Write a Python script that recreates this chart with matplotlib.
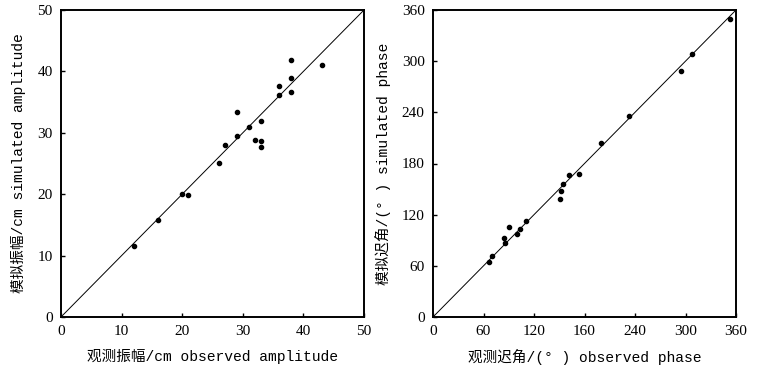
import matplotlib
matplotlib.use('Agg')
from matplotlib import pyplot as plt

# amplitude (cm)
amp_obs = [12, 16, 20, 21, 26, 27, 29, 29, 31, 32, 33, 33, 33, 36, 36, 38, 38, 38, 43]
amp_sim = [11.6, 15.8, 20.1, 19.9, 25.1, 28.0, 29.4, 33.4, 30.9, 28.9, 32.0, 28.6, 27.7, 36.1, 37.6, 36.6, 38.9, 41.8, 41.0]

# phase (deg)
pha_obs = [66, 70, 84, 85, 90, 100, 103, 110, 151, 152, 154, 161, 174, 200, 233, 295, 308, 353]
pha_sim = [64, 71, 93, 87, 106, 97, 103, 113, 138, 148, 156, 166, 168, 204, 236, 289, 308, 350]

amp_ticks = [0, 10, 20, 30, 40, 50]
pha_ticks = [0, 60, 120, 180, 240, 300, 360]
pha_xticklabels = ['0', '60', '120', '160', '240', '300', '360']

lab_font = ['Liberation Mono', 'Noto Sans CJK SC']
tick_font = 'Liberation Serif'

fig = plt.figure(figsize=(7.63, 3.78), dpi=100)
ax1 = fig.add_axes([61 / 763, 1 - 317 / 378, 303 / 763, 307 / 378])
ax2 = fig.add_axes([433 / 763, 1 - 317 / 378, 303 / 763, 307 / 378])


def setup(ax, obs, sim, lim, ticks, xlabels, xlab, ylab):
    ax.plot([0, lim], [0, lim], color='black', lw=0.7)
    ax.plot(obs, sim, 'o', color='black', ms=3)
    ax.set_xlim(0, lim)
    ax.set_ylim(0, lim)
    ax.set_xticks(ticks)
    ax.set_yticks(ticks)
    ax.set_xticklabels(xlabels, fontfamily=tick_font, fontsize=11)
    ax.set_yticklabels([str(t) for t in ticks], fontfamily=tick_font, fontsize=11)
    ax.tick_params(direction='in', length=3, width=1, pad=6)
    for s in ax.spines.values():
        s.set_linewidth(1.4)
    ax.set_xlabel(xlab, family=lab_font, fontsize=10.5, labelpad=8)
    ax.set_ylabel(ylab, family=lab_font, fontsize=10.5, labelpad=8)


setup(ax1, amp_obs, amp_sim, 50, amp_ticks, [str(t) for t in amp_ticks],
      '观测振幅/cm observed amplitude', '模拟振幅/cm simulated amplitude')
setup(ax2, pha_obs, pha_sim, 360, pha_ticks, pha_xticklabels,
      '观测迟角/(° ) observed phase', '模拟迟角/(° ) simulated phase')

fig.savefig('out.png', dpi=100)
